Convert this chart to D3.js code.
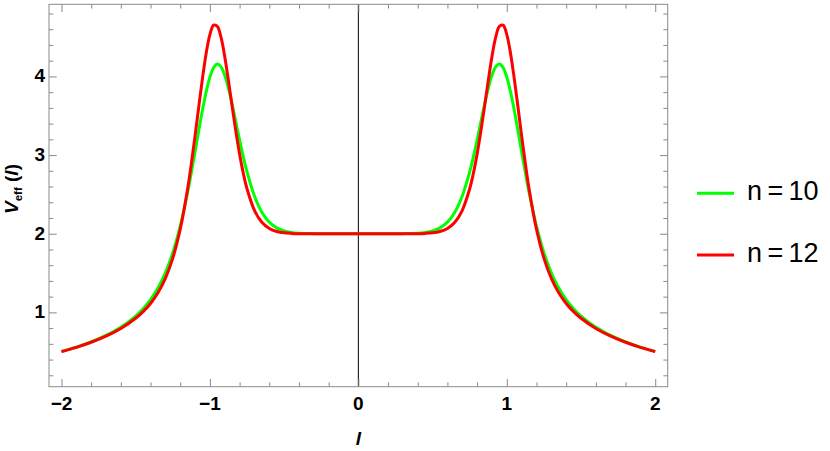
<!DOCTYPE html>
<html><head><meta charset="utf-8">
<script src="https://cdn.jsdelivr.net/npm/d3@7"></script>
<style>body{margin:0;background:#fff}svg{display:block}</style>
</head><body>
<script>
// Data
const lValues = [-2,-1.9,-1.8,-1.7,-1.6,-1.5,-1.45,-1.4,-1.35,-1.3,-1.25,-1.2,-1.15,-1.125,-1.1,-1.075,-1.05,-1.025,-1,-0.975,-0.95,-0.925,-0.9,-0.875,-0.85,-0.825,-0.8,-0.775,-0.75,-0.7,-0.65,-0.6,-0.55,-0.5,-0.45,-0.4,-0.3,-0.2,-0.1,0,
  0.1,0.2,0.3,0.4,0.45,0.5,0.55,0.6,0.65,0.7,0.75,0.775,0.8,0.825,0.85,0.875,0.9,0.925,0.95,0.975,1,1.025,1.05,1.075,1.1,1.125,1.15,1.2,1.25,1.3,1.35,1.4,1.45,1.5,1.6,1.7,1.8,1.9,2];
const vN10 = [0.502,0.558,0.625,0.707,0.811,0.953,1.046,1.162,1.310,1.503,1.759,2.096,2.528,2.778,3.042,3.312,3.573,3.805,3.991,4.112,4.157,4.122,4.014,3.847,3.641,3.417,3.191,2.978,2.786,2.480,2.274,2.147,2.074,2.035,2.015,2.006,2.001,2.000,2.000,2.000,
  2.000,2.000,2.001,2.006,2.015,2.035,2.074,2.147,2.274,2.480,2.786,2.978,3.191,3.417,3.641,3.847,4.014,4.122,4.157,4.112,3.991,3.805,3.573,3.312,3.042,2.778,2.528,2.096,1.759,1.503,1.310,1.162,1.046,0.953,0.811,0.707,0.625,0.558,0.502];
const vN12 = [0.501,0.555,0.620,0.698,0.796,0.925,1.009,1.113,1.249,1.432,1.690,2.057,2.573,2.892,3.244,3.615,3.977,4.296,4.532,4.651,4.637,4.495,4.251,3.945,3.616,3.298,3.012,2.769,2.572,2.298,2.145,2.066,2.028,2.011,2.004,2.001,2.000,2.000,2.000,2.000,
  2.000,2.000,2.000,2.001,2.004,2.011,2.028,2.066,2.145,2.298,2.572,2.769,3.012,3.298,3.616,3.945,4.251,4.495,4.637,4.651,4.532,4.296,3.977,3.615,3.244,2.892,2.573,2.057,1.690,1.432,1.249,1.113,1.009,0.925,0.796,0.698,0.620,0.555,0.501];
const seriesNames = ["n\u2009=\u200910", "n\u2009=\u200912"];
const seriesColors = ["#00ff00", "#ff0000"];
const xTickLabels = ["\u22122", "\u22121", "0", "1", "2"];
const xTickValues = [-2, -1, 0, 1, 2];
const yTickValues = [1, 2, 3, 4];

(function () {
const W = 830, H = 451;
const pL = 49, pR = 667.7, pT = 4.3, pB = 386.7;
const svg = d3.select("body").append("svg").attr("width", W).attr("height", H);

const x = d3.scaleLinear().domain([-2.084, 2.084]).range([pL, pR]);
const y = d3.scaleLinear().domain([0.055, 4.917]).range([pB, pT]);

const minorX = d3.range(-10, 11).filter(k => k % 5 !== 0).map(k => k / 5);
const minorY = d3.range(1, 25).filter(k => k % 5 !== 0).map(k => k / 5);

const frameColor = "#8a8a8a";
const g = svg.append("g");

// axis at x=0 (vertical black line)
g.append("line").attr("x1", x(0)).attr("x2", x(0)).attr("y1", pT).attr("y2", pB)
  .attr("stroke", "#000").attr("stroke-width", 1);

// curves
const line = d3.line().x(d => x(d[0])).y(d => y(d[1])).curve(d3.curveCatmullRom.alpha(0.5));
[vN10, vN12].forEach((vals, i) => {
  g.append("path").datum(lValues.map((l, j) => [l, vals[j]]))
    .attr("d", line).attr("fill", "none").attr("stroke", seriesColors[i])
    .attr("stroke-width", 3).attr("stroke-linejoin", "round");
});

// frame axes with inward ticks
function tickAxes(axisGen, transform) {
  const a = svg.append("g").attr("transform", transform).call(axisGen);
  a.select(".domain").remove();
  a.selectAll("line").attr("stroke", frameColor);
  a.selectAll("text").remove();
}
const maj = 7.7, mnr = 4.3;
tickAxes(d3.axisBottom(x).tickValues(xTickValues).tickSize(-maj), `translate(0,${pB})`);
tickAxes(d3.axisBottom(x).tickValues(minorX).tickSize(-mnr), `translate(0,${pB})`);
tickAxes(d3.axisTop(x).tickValues(xTickValues).tickSize(-maj), `translate(0,${pT})`);
tickAxes(d3.axisTop(x).tickValues(minorX).tickSize(-mnr), `translate(0,${pT})`);
tickAxes(d3.axisLeft(y).tickValues(yTickValues).tickSize(-maj), `translate(${pL},0)`);
tickAxes(d3.axisLeft(y).tickValues(minorY).tickSize(-mnr), `translate(${pL},0)`);
tickAxes(d3.axisRight(y).tickValues(yTickValues).tickSize(-maj), `translate(${pR},0)`);
tickAxes(d3.axisRight(y).tickValues(minorY).tickSize(-mnr), `translate(${pR},0)`);

svg.append("rect").attr("x", pL).attr("y", pT).attr("width", pR - pL).attr("height", pB - pT)
  .attr("fill", "none").attr("stroke", frameColor).attr("stroke-width", 1);

// tick labels
const font = "'Liberation Sans', Arial, sans-serif";
svg.append("g").selectAll("text").data(xTickValues).join("text")
  .attr("x", d => x(d)).attr("y", 409.5).attr("text-anchor", "middle")
  .attr("font-family", font).attr("font-weight", "bold").attr("font-size", 19)
  .text((d, i) => xTickLabels[i]);
svg.append("g").selectAll("text").data(yTickValues).join("text")
  .attr("x", 45).attr("y", d => y(d) + 6).attr("text-anchor", "end")
  .attr("font-family", font).attr("font-weight", "bold").attr("font-size", 19)
  .text(d => d);

// axis labels
svg.append("text").attr("x", x(0)).attr("y", 445).attr("text-anchor", "middle")
  .attr("font-family", font).attr("font-style", "italic").attr("font-weight", "bold").attr("font-size", 19).text("l");

const yl = svg.append("text").attr("transform", "translate(18,189) rotate(-90)")
  .attr("text-anchor", "middle").attr("font-family", font).attr("font-weight", "bold").attr("font-size", 19);
yl.append("tspan").attr("font-style", "italic").text("V");
yl.append("tspan").attr("font-size", 11.5).attr("dy", 4).text("eff");
yl.append("tspan").attr("dy", -4).text(" (");
yl.append("tspan").attr("font-style", "italic").text("l");
yl.append("tspan").text(")");

// legend
const legendY = [193.3, 255];
seriesNames.forEach((name, i) => {
  svg.append("line").attr("x1", 697).attr("x2", 734).attr("y1", legendY[i]).attr("y2", legendY[i])
    .attr("stroke", seriesColors[i]).attr("stroke-width", 3);
  svg.append("text").attr("x", 747).attr("y", legendY[i] + 6.8)
    .attr("font-family", font).attr("font-size", 27).text(name);
});
})();
</script>
</body></html>
